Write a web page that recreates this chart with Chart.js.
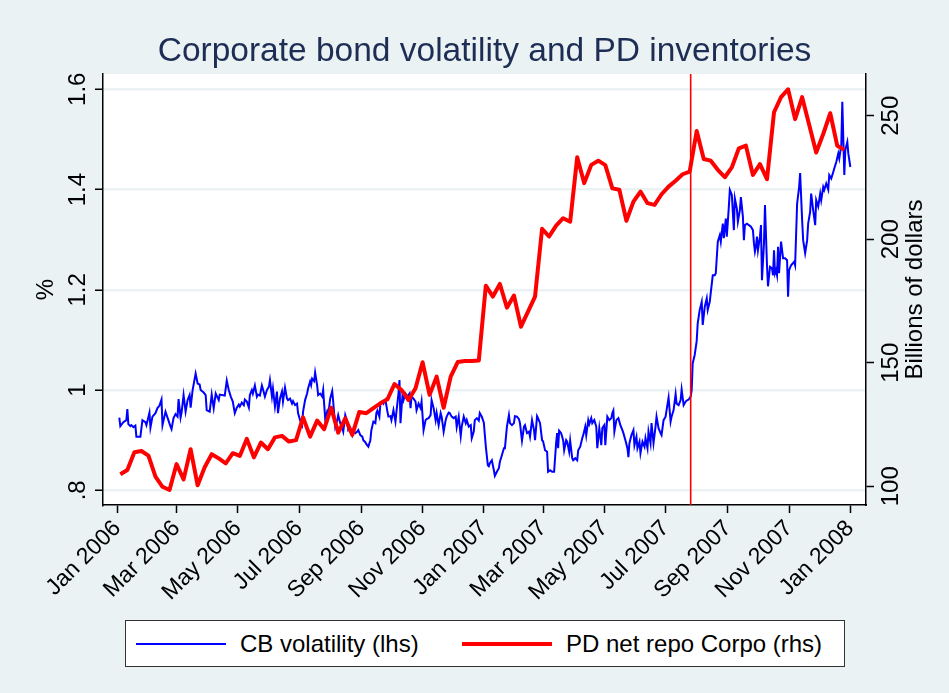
<!DOCTYPE html>
<html lang="en">
<head>
<meta charset="UTF-8">
<title>Corporate bond volatility and PD inventories</title>
<script src="https://cdn.jsdelivr.net/npm/chart.js"></script>
<style>
  html, body { margin: 0; padding: 0; background: #eaf2f3; }
  .wrap { position: relative; width: 949px; height: 693px; font-family: "Liberation Sans", Arial, sans-serif; }
  .title { position: absolute; left: 103px; width: 763px; top: 30px; line-height: 40px;
           text-align: center; font-size: 33.5px; color: #1e2d54; }
  .legend { position: absolute; left: 125px; top: 620px; width: 718px; height: 45px;
            background: #fff; border: 1px solid #333; }
  .legend .sw { position: absolute; top: 22px; width: 90px; }
  .legend .lb { position: absolute; top: 9px; font-size: 24px; line-height: 28px; color: #000; }
</style>
</head>
<body>
<div class="wrap">
  <canvas id="chart" width="949" height="693"></canvas>
  <div class="title">Corporate bond volatility and PD inventories</div>
  <div class="legend">
    <div class="sw" style="left:10px;border-top:2px solid #0000ff;"></div>
    <div class="lb" style="left:114px;">CB volatility (lhs)</div>
    <div class="sw" style="left:336px;top:21px;border-top:4px solid #ff0000;"></div>
    <div class="lb" style="left:440px;">PD net repo Corpo (rhs)</div>
  </div>
</div>

<script>
// x axis: days since 1 Jan 2006
const monthTicks = [0, 59, 120, 181, 243, 304, 365, 424, 485, 546, 608, 669, 730];
const monthLabels = ['Jan 2006', 'Mar 2006', 'May 2006', 'Jul 2006', 'Sep 2006', 'Nov 2006',
                     'Jan 2007', 'Mar 2007', 'May 2007', 'Jul 2007', 'Sep 2007', 'Nov 2007', 'Jan 2008'];
const leftTicks = [0.8, 1, 1.2, 1.4, 1.6];
const leftLabels = ['.8', '1', '1.2', '1.4', '1.6'];
const rightTicks = [100, 150, 200, 250];
const rightLabels = ['100', '150', '200', '250'];
const eventDay = 571;

// CB volatility (lhs), %
const cbDays = [
  2, 3, 6, 9, 10, 11, 13, 14, 16, 18, 19, 23, 25, 28, 29, 32, 33, 35, 38, 40,
  42, 44, 45, 48, 50, 53, 54, 56, 58, 60, 61, 63, 64, 66, 68, 70, 72, 73, 75, 78,
  80, 82, 83, 86, 88, 89, 92, 94, 96, 98, 101, 102, 107, 109, 111, 113, 115, 117, 119,
  121, 122, 124, 126, 127, 129, 131, 132, 134, 135, 137, 139, 140, 142, 144, 145, 147, 149, 151, 152,
  154, 155, 157, 159, 160, 162, 164, 165, 167, 169, 170, 172, 174, 175, 177, 179, 180, 182, 184, 185,
  187, 189, 190, 192, 193, 194, 196, 197, 199, 200, 202, 204, 205, 207, 209, 210, 212, 214, 215, 217,
  219, 220, 222, 224, 225, 227, 229, 230, 232, 234, 235, 237, 239, 240, 242, 244, 245, 247,
  248, 250, 252, 253, 255, 257, 258, 259, 261, 262, 264, 265, 267, 269, 270, 272, 273, 275, 277, 278,
  280, 281, 282, 284, 285, 287, 289, 291, 292, 293, 295, 297, 298, 300, 302, 303, 305, 307, 308, 310,
  312, 313, 315, 317, 318, 320, 322, 323, 325, 327, 328, 330, 331, 333, 335, 337, 338, 340, 342, 343,
  345, 347, 348, 350, 352, 353, 355, 356, 358, 360, 361, 363, 365, 367, 369,
  370, 371, 373, 375, 376, 378, 380, 381, 383, 385, 386, 388, 390, 391, 393, 395, 396, 398, 400, 401,
  403, 405, 406, 408, 410, 411, 413, 415, 416, 418, 419, 421, 423, 424, 426, 428, 429, 431, 433, 435,
  437, 438, 439, 440, 442, 444, 445, 447, 448, 450, 451, 453, 454, 456, 458, 459, 461, 463, 464, 466,
  467, 469, 470, 472, 473, 475, 477, 478, 480, 482, 483, 485, 486, 488, 490, 492,
  493, 494, 495, 497, 499, 501, 503, 504, 506, 508, 509, 510, 512, 514, 515, 517, 518, 520, 521, 523,
  525, 526, 528, 529, 531, 532, 534, 536, 537, 539, 541, 542, 544, 546, 547, 549, 551, 552, 554, 556,
  557, 559, 561, 562, 564, 566, 567, 569, 571, 572, 573, 575, 577, 578, 580, 582, 583, 585, 587, 588,
  590, 591, 593, 595, 596, 598, 600, 601, 603, 604, 606, 607, 609, 610, 612, 614, 615, 617, 618, 620,
  621, 623, 624, 625, 627, 629, 631, 633, 634, 635, 636, 637, 638, 640, 641, 642, 644, 645, 647, 648,
  650, 652, 653, 654, 655, 656, 657, 658, 659, 661, 663, 665, 667, 668, 669, 671, 674, 675, 677, 679,
  680, 682, 683, 685, 687, 688, 690, 691, 693, 695, 696, 698, 700, 701, 703, 704, 706, 708, 709, 711,
  713, 714, 716, 718, 719, 721, 722, 724, 725, 727, 728, 730
];
const cbVol = [
  .945, .928, .936, .940, .962, .932, .928, .930, .926, .929, .907, .907, .940, .936, .930, .955, .925, .947, .954, .964,
  .969, .981, .930, .957, .945, .927, .922, .944, .952, .947, .982, .945, .955, .990, .957, .980, .990, .965, 1.000, 1.033,
  1.013, 1.011, 1.000, .995, .990, .960, .957, .991, .964, .993, .980, .991, .989, 1.019, 1.000, .987, .977, .954, .965,
  .971, .967, .975, .970, .981, .977, .965, .990, 1.000, .993, 1.009, .987, .991, .989, 1.009, 1.002, .987, 1.000, 1.007, 1.020,
  .987, 1.003, .967, .997, .954, .983, .997, .977, 1.005, .983, .980, .983, .973, .978, .970, .973, .954, .940, .930, .957,
  .980, .993, 1.003, 1.017, 1.010, 1.023, 1.018, 1.035, 1.010, .990, .993, .987, 1.000, .944, .957, .950, .983, .998, .977, .927,
  .940, .950, .934, .924, .917, .950, .937, .920, .924, .910, .917, .914, .917, .920, .910, .907, .900, .896,
  .892, .887, .900, .920, .937, .934, .954, .959, .947, .973, .977, .973, .980, .957, .947, .948, .940, .960, .937, .957,
  .993, 1.020, .934, .990, .980, .993, .987, .993, .964, .987, .983, .977, .960, .973, .964, .977, .920, .940, .942, .944,
  .950, .980, .964, .940, .954, .930, .954, .947, .917, .940, .947, .955, .954, .947, .944, .947, .926, .947, .908, .927,
  .947, .934, .940, .927, .930, .904, .917, .940, .944, .939, .954, .947, .935, .887, .850,
  .848, .854, .860, .840, .829, .837, .844, .857, .870, .884, .884, .927, .950, .934, .930, .934, .948, .947, .942, .934,
  .899, .927, .930, .914, .917, .907, .940, .920, .900, .948, .944, .934, .900, .898, .880, .877, .837, .840, .837, .837,
  .894, .914, .884, .919, .914, .900, .880, .900, .897, .877, .899, .864, .860, .864, .860, .880, .887, .904, .910, .927,
  .910, .940, .932, .944, .934, .940, .927, .884, .924, .890, .924, .930, .890, .947, .940, .944,
  .954, .959, .917, .940, .944, .930, .920, .914, .900, .884, .866, .894, .910, .920, .890, .907, .884, .897, .874, .897,
  .887, .904, .884, .917, .894, .934, .894, .927, .947, .924, .914, .910, .940, .947, .960, .985, .937, .947, .960, .992,
  .973, .970, .980, 1.001, .970, .977, .979, .981, .987, 1.000, 1.053, 1.070, 1.098, 1.133, 1.160, 1.176, 1.130, 1.166, 1.183, 1.160,
  1.176, 1.194, 1.229, 1.229, 1.233, 1.296, 1.309, 1.296, 1.332, 1.303, 1.342, 1.306, 1.366, 1.399, 1.389, 1.319, 1.382, 1.362, 1.336, 1.359,
  1.385, 1.346, 1.299, 1.329, 1.332, 1.329, 1.326, 1.319, 1.293, 1.276, 1.286, 1.306, 1.279, 1.306, 1.329, 1.219, 1.293, 1.369, 1.249, 1.207,
  1.246, 1.243, 1.229, 1.279, 1.233, 1.239, 1.229, 1.286, 1.233, 1.296, 1.263, 1.263, 1.259, 1.186, 1.239, 1.249, 1.256, 1.249, 1.372, 1.405,
  1.433, 1.339, 1.299, 1.273, 1.299, 1.332, 1.356, 1.392, 1.359, 1.329, 1.379, 1.366, 1.392, 1.379, 1.405, 1.399, 1.412, 1.400, 1.429, 1.422,
  1.435, 1.442, 1.455, 1.472, 1.462, 1.489, 1.575, 1.429, 1.479, 1.495, 1.472, 1.445
];

// PD net repo Corpo (rhs), billions of dollars, weekly
const pdDays = [
  3, 10, 17, 24, 31, 38, 45, 52, 59, 66, 73, 80, 87, 94, 101, 108, 115, 122, 129, 136,
  143, 150, 157, 164, 171, 178, 185, 192, 199, 206, 213, 220, 227, 234, 241, 248, 255, 262, 269, 276,
  283, 290, 297, 304, 311, 318, 325, 332, 339, 346, 353, 360, 367, 374, 381, 388, 395, 402, 409, 416,
  423, 430, 437, 444, 451, 458, 465, 472, 479, 486, 493, 500, 507, 514, 521, 528, 535, 542, 549, 556,
  563, 570, 577, 584, 591, 598, 605, 612, 619, 626, 633, 640, 647, 654, 661, 668, 675, 682, 689, 696,
  703, 710, 717, 724
];
const pdRepo = [
  104.9, 106.6, 113.8, 114.3, 112.4, 103.9, 99.8, 98.5, 109.0, 102.8,
  115.0, 100.4, 107.7, 113.0, 111.3, 109.3, 113.4, 112.3, 119.2, 111.7,
  117.7, 115.0, 119.8, 120.4, 118.1, 118.7, 127.9, 120.1, 126.6, 123.1,
  131.8, 121.7, 127.5, 120.8, 130.1, 129.6, 131.6, 133.6, 135.2, 141.4,
  139.0, 134.9, 139.7, 150.2, 137.0, 144.4, 131.8, 144.4, 150.3, 150.7,
  150.7, 150.9, 181.2, 176.8, 181.9, 172.3, 177.2, 164.6, 170.7, 176.8,
  204.2, 201.1, 205.5, 208.5, 207.1, 233.2, 222.7, 230.1, 231.8, 230.0,
  220.6, 220.0, 207.5, 215.2, 219.3, 214.6, 213.9, 218.2, 221.3, 223.7,
  226.3, 227.4, 243.8, 232.5, 231.8, 228.1, 225.1, 229.1, 236.8, 237.9,
  226.0, 230.4, 224.3, 251.4, 257.5, 260.7, 248.6, 257.5, 246.3, 235.1,
  242.6, 251.0, 237.8, 236.2
];

const FONT = '"Liberation Sans", Arial, sans-serif';

const stataPlugin = {
  id: 'stata',
  beforeDraw(chart) {
    const a = chart.chartArea, ctx = chart.ctx;
    ctx.save();
    ctx.fillStyle = '#eaf2f3';
    ctx.fillRect(0, 0, chart.width, chart.height);
    ctx.fillStyle = '#ffffff';
    ctx.fillRect(a.left, a.top, a.right - a.left, a.bottom - a.top);
    ctx.restore();
  },
  afterDatasetsDraw(chart) {
    const a = chart.chartArea, ctx = chart.ctx;
    const x = chart.scales.x.getPixelForValue(eventDay);
    ctx.save();
    ctx.strokeStyle = '#ff0000';
    ctx.lineWidth = 1.6;
    ctx.beginPath();
    ctx.moveTo(x, a.top);
    ctx.lineTo(x, a.bottom);
    ctx.stroke();
    ctx.restore();
  },
  afterDraw(chart) {
    const ctx = chart.ctx, a = chart.chartArea;
    const yl = chart.scales.y, yr = chart.scales.y2;
    ctx.save();
    ctx.fillStyle = '#000';
    ctx.textAlign = 'center';
    ctx.textBaseline = 'middle';
    ctx.font = '24px ' + FONT;
    const vtext = (t, x, y) => {
      ctx.save();
      ctx.translate(x, y);
      ctx.rotate(-Math.PI / 2);
      ctx.fillText(t, 0, 0);
      ctx.restore();
    };
    leftTicks.forEach((v, i) => vtext(leftLabels[i], a.left - 25, yl.getPixelForValue(v)));
    rightTicks.forEach((v, i) => vtext(rightLabels[i], a.right + 25, yr.getPixelForValue(v)));
    ctx.font = '24px ' + FONT;
    const midY = (a.top + a.bottom) / 2;
    vtext('%', 46, midY);
    vtext('Billions of dollars', 915, midY);
    ctx.restore();
  }
};

const tickGrid = { drawOnChartArea: false, tickLength: 8, tickColor: '#000', tickWidth: 1.5 };

new Chart(document.getElementById('chart'), {
  type: 'line',
  data: {
    datasets: [
      {
        label: 'PD net repo Corpo (rhs)',
        data: pdDays.map((d, i) => ({ x: d, y: pdRepo[i] })),
        yAxisID: 'y2',
        borderColor: '#ff0000',
        borderWidth: 4,
        borderJoinStyle: 'round',
        pointRadius: 0,
        tension: 0,
        order: 1
      },
      {
        label: 'CB volatility (lhs)',
        data: cbDays.map((d, i) => ({ x: d, y: cbVol[i] })),
        yAxisID: 'y',
        borderColor: '#0000ff',
        borderWidth: 2,
        pointRadius: 0,
        tension: 0,
        order: 2
      }
    ]
  },
  options: {
    responsive: false,
    animation: false,
    devicePixelRatio: 1,
    layout: { padding: { top: 74, left: 0, right: 0, bottom: 0 } },
    plugins: { legend: { display: false }, tooltip: { enabled: false } },
    scales: {
      x: {
        type: 'linear',
        min: -14.25,
        max: 745.6,
        afterBuildTicks: s => { s.ticks = monthTicks.map(v => ({ value: v })); },
        afterFit: s => { s.height = 188; },
        ticks: {
          autoSkip: false,
          minRotation: 45,
          maxRotation: 45,
          padding: 2,
          color: '#000',
          font: { family: FONT, size: 23 },
          callback: v => monthLabels[monthTicks.indexOf(v)]
        },
        grid: tickGrid,
        border: { color: '#000', width: 1.5 }
      },
      y: {
        position: 'left',
        min: 0.7707,
        max: 1.6305,
        afterBuildTicks: s => { s.ticks = leftTicks.map(v => ({ value: v })); },
        afterFit: s => { s.width = 103; },
        ticks: { display: false },
        grid: { color: '#eaf2f3', lineWidth: 2.5, tickLength: 8, tickColor: '#000', tickWidth: 1.5 },
        border: { color: '#000', width: 1.5 }
      },
      y2: {
        position: 'right',
        min: 92.43,
        max: 266.88,
        afterBuildTicks: s => { s.ticks = rightTicks.map(v => ({ value: v })); },
        afterFit: s => { s.width = 83; },
        ticks: { display: false },
        grid: tickGrid,
        border: { color: '#000', width: 1.5 }
      }
    }
  },
  plugins: [stataPlugin]
});
</script>
</body>
</html>
